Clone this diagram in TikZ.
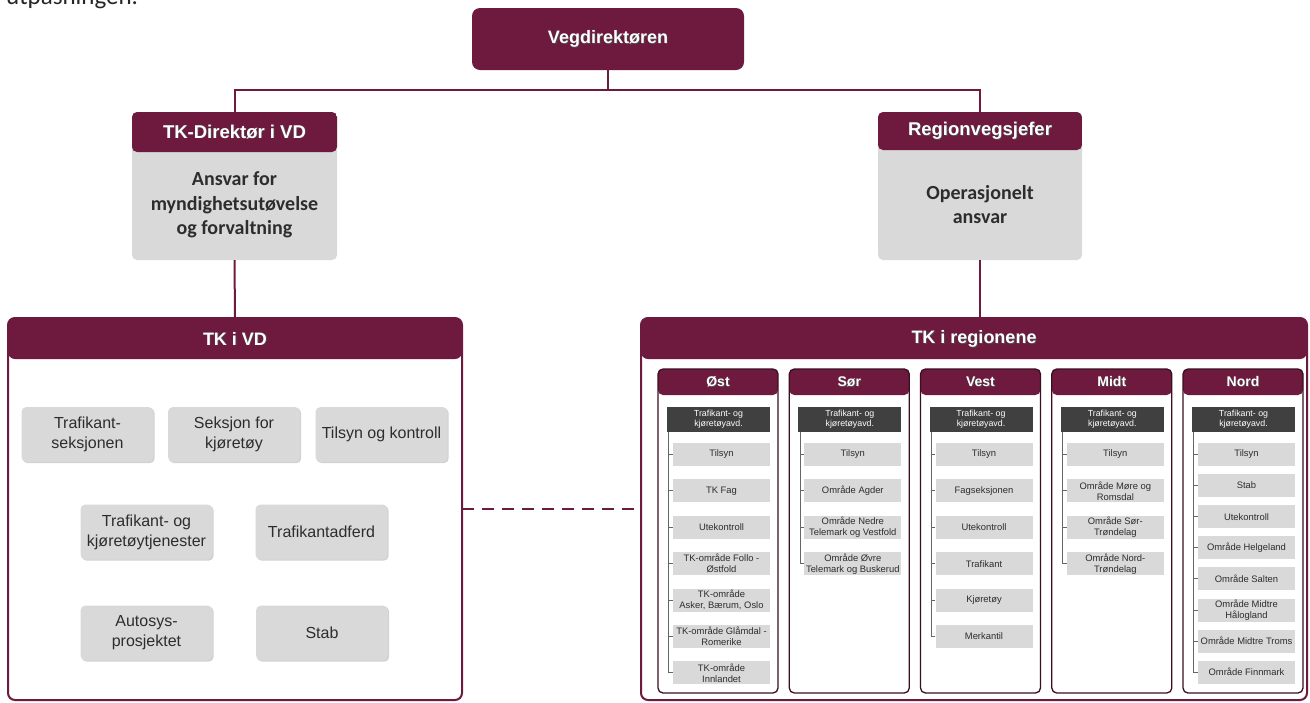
\documentclass[tikz,border=0pt]{standalone}
\usepackage{fontspec}
\setmainfont{Liberation Sans}
\newfontfamily\calfont{Carlito}
\usetikzlibrary{shadows}

\definecolor{vvred}{RGB}{110,26,62}
\definecolor{boxgray}{RGB}{217,217,217}
\definecolor{darkhead}{RGB}{64,64,64}
\definecolor{txtgray}{RGB}{45,45,45}

% white title text with a soft dark offset behind it
\newcommand{\shtxt}[1]{\makebox[0pt][l]{\hspace{0.8pt}\raisebox{-0.8pt}{\textcolor{black!70}{#1}}}#1}

\tikzset{
  conn/.style={draw=vvred, line width=2pt},
  header/.style={path picture={\fill[vvred] (path picture bounding box.north west)
      rectangle ([yshift=-#1]path picture bounding box.north east);}},
  frame/.style={draw=vvred, line width=2pt, fill=white, rounded corners=7pt,
      inner sep=0pt, outer sep=0pt},
  title/.style={text=white, font=\bfseries\fontsize{18}{20}\selectfont, inner sep=0pt},
  bodytext/.style={text=txtgray, align=center, inner sep=0pt,
      font=\calfont\bfseries\fontsize{20}{24.5}\selectfont},
  graybox/.style={fill=boxgray, rounded corners=5pt, minimum width=132pt,
      minimum height=55pt, inner sep=1pt, align=center, text=txtgray,
      font=\fontsize{16}{20}\selectfont,
      drop shadow={shadow xshift=1.2pt, shadow yshift=-1.2pt, opacity=0.18, fill=black}},
  col/.style={draw=vvred!55!black, line width=1.3pt, fill=white, rounded corners=5pt,
      minimum width=120pt, minimum height=324pt, inner sep=0pt, header=26pt},
  coltitle/.style={text=white, font=\bfseries\fontsize{14}{16}\selectfont, inner sep=0pt},
  dhead/.style={fill=darkhead, minimum width=103pt, minimum height=25pt, inner sep=0pt,
      align=center, text=white, font=\fontsize{8.8}{10}\selectfont},
  item/.style={fill=boxgray, minimum width=97pt, minimum height=23pt, inner sep=0pt,
      align=center, text=txtgray, font=\fontsize{9.4}{11}\selectfont},
  tree/.style={draw=black!60, line width=0.9pt}
}

% one regional column: name, left edge, title, first item top, item pitch, items
\newcommand{\regcol}[6]{%
  \node[col] (#1) at (#2+60,531) {};
  \node[coltitle] (#1t) at (#2+60,382) {\shtxt{#3}};
  \node[dhead] (#1h) at (#2+60.5,419.5) {Trafikant- og\\kjøretøyavd.};
  \foreach \itm [count=\i] in {#6} {
    \node[item] (#1\i) at (#2+63.5,#4+#5*\i-#5+11.5) {\itm};
    \draw[tree] (#1\i.west) -- ++(-4.5,0);
    \xdef\lastidx{\i}
  }
  \draw[tree] ([xshift=2pt]#1h.south west) |- (#1\lastidx.west);
}

\begin{document}
\begin{tikzpicture}[x=1pt,y=-1pt]
\useasboundingbox (0,0) rectangle (1310,702);
\clip (0,0) rectangle (1310,702);

% running text of the page above the chart
\node[anchor=base west, inner sep=0pt, text=black!85,
      font=\calfont\fontsize{25}{27}\selectfont] (pagetext) at (6,4.5) {utpasningen.};

% top level
\node[fill=vvred, rounded corners=8pt, minimum width=272pt, minimum height=62pt,
      inner sep=0pt] (vd) at (608,39) {};
\node[title] (vdt) at (608,39) {\shtxt{Vegdirektøren}};

% second level
\node[fill=boxgray, rounded corners=5pt, minimum width=205pt, minimum height=148pt,
      inner sep=0pt, header=40pt] (tkdir) at (234.5,186) {};
\node[title, font=\bfseries\fontsize{18.5}{20}\selectfont] (tkdirt) at (234.5,132)
      {\shtxt{TK-Direktør i VD}};
\node[bodytext] (tkdirb) at (234.5,205) {Ansvar for\\myndighetsutøvelse\\og forvaltning};

\node[fill=boxgray, rounded corners=5pt, minimum width=204pt, minimum height=148pt,
      inner sep=0pt, header=38pt] (rvj) at (980,186) {};
\node[title, font=\bfseries\fontsize{18.5}{20}\selectfont] (rvjt) at (980,131)
      {\shtxt{Regionvegsjefer}};
\node[bodytext] (rvjb) at (980,204.5) {Operasjonelt\\ansvar};

\coordinate (bus) at (608,90);
\draw[conn] (vd.south) -- (bus);
\draw[conn] (tkdir.north) |- (bus) -| (rvj.north);

% lower frames
\node[frame, header=41pt, minimum width=454pt, minimum height=382pt] (tkvd) at (235,509) {};
\node[title] (tkvdt) at (235,339) {\shtxt{TK i VD}};
\node[frame, header=41pt, minimum width=666pt, minimum height=382pt] (tkreg) at (974,509) {};
\node[title] (tkregt) at (974,339) {\shtxt{TK i regionene}};

\draw[conn] (tkdir.south) -- (tkvd.north);
\draw[conn] (rvj.south) -- (rvj.south |- tkreg.north);
\draw[conn, dash pattern=on 12pt off 8pt] (tkvd.east) -- (tkvd.east -| tkreg.west);

% units in the directorate
\node[graybox] (b1) at (87.5,434.5) {Trafikant-\\seksjonen};
\node[graybox] (b2) at (234,434.5) {Seksjon for\\kjøretøy};
\node[graybox] (b3) at (381.5,434.5) {Tilsyn og kontroll};
\node[graybox] (b4) at (146.5,532) {Trafikant- og\\kjøretøytjenester};
\node[graybox] (b5) at (321.5,532) {Trafikantadferd};
\node[graybox] (b6) at (146.5,633) {Autosys-\\prosjektet};
\node[graybox] (b7) at (322,633) {Stab};

% regional units
\regcol{ost}{658}{Øst}{443}{36.4}{Tilsyn, TK Fag, Utekontroll, TK-område Follo -\\Østfold,
  {TK-område\\Asker, Bærum, Oslo}, TK-område Glåmdal -\\Romerike, TK-område\\Innlandet}
\regcol{sor}{789.3}{Sør}{443}{36.4}{Tilsyn, Område Agder, Område Nedre\\Telemark og Vestfold,
  Område Øvre\\Telemark og Buskerud}
\regcol{vest}{920.5}{Vest}{443}{36.4}{Tilsyn, Fagseksjonen, Utekontroll, Trafikant,
  Kjøretøy, Merkantil}
\regcol{midt}{1051.8}{Midt}{443}{36.4}{Tilsyn, Område Møre og\\Romsdal,
  Område Sør-\\Trøndelag, Område Nord-\\Trøndelag}
\regcol{nord}{1183}{Nord}{443}{31.1}{Tilsyn, Stab, Utekontroll, Område Helgeland,
  Område Salten, Område Midtre\\Hålogland, Område Midtre Troms, Område Finnmark}
\end{tikzpicture}
\end{document}
